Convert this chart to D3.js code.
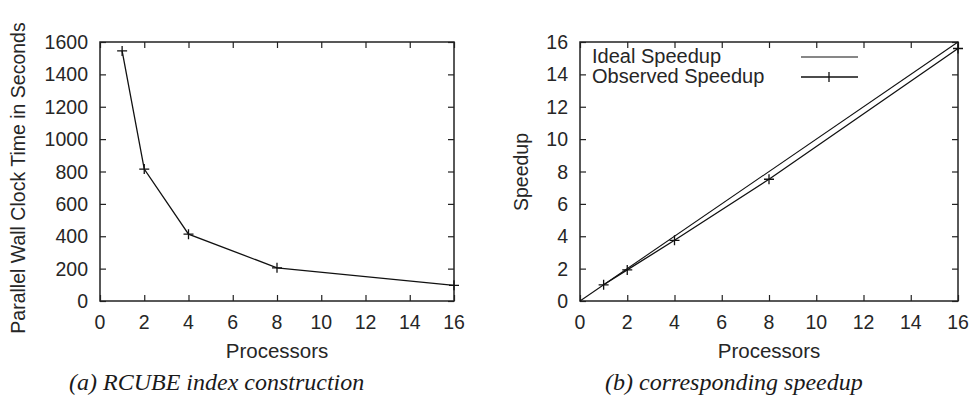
<!DOCTYPE html>
<html>
<head>
<meta charset="utf-8">
<script src="https://cdn.jsdelivr.net/npm/d3@7"></script>
<style>
  body { margin: 0; background: #fff; }
  text { font-family: "Liberation Sans", Arial, sans-serif; fill: #262626; }
  .caption { font-family: "Liberation Serif", "Times New Roman", serif; font-style: italic; fill: #1a1a1a; }
</style>
</head>
<body>
<div id="chart"></div>
<script>
// data
var processors = [1, 2, 4, 8, 16];
var wallTime = [1545, 815, 413, 205, 97];
var idealX = [0, 16];
var idealSpeedup = [0, 16];
var observedSpeedup = [1, 1.92, 3.75, 7.52, 15.6];
var xTicks = [0, 2, 4, 6, 8, 10, 12, 14, 16];
var timeTicks = [0, 200, 400, 600, 800, 1000, 1200, 1400, 1600];
var speedTicks = [0, 2, 4, 6, 8, 10, 12, 14, 16];

var svg = d3.select("#chart")
  .append("svg")
    .attr("width", 976)
    .attr("height", 401);

var plotTop = 42, plotBottom = 301;
var fs = 19.5;

// draws a framed gnuplot-style panel, returns the scales
function panel(left, right, yMax, yTicks) {
  var x = d3.scaleLinear().domain([0, 16]).range([left, right]);
  var y = d3.scaleLinear().domain([0, yMax]).range([plotBottom, plotTop]);
  var g = svg.append("g");

  // inward ticks on all four sides
  g.append("g")
    .attr("transform", "translate(0," + plotBottom + ")")
    .call(d3.axisTop(x).tickValues(xTicks).tickSize(6).tickFormat(""));
  g.append("g")
    .attr("transform", "translate(0," + plotTop + ")")
    .call(d3.axisBottom(x).tickValues(xTicks).tickSize(6).tickFormat(""));
  g.append("g")
    .attr("transform", "translate(" + left + ",0)")
    .call(d3.axisRight(y).tickValues(yTicks).tickSize(6).tickFormat(""));
  g.append("g")
    .attr("transform", "translate(" + right + ",0)")
    .call(d3.axisLeft(y).tickValues(yTicks).tickSize(6).tickFormat(""));
  g.selectAll(".domain").remove();
  g.selectAll(".tick line").attr("stroke", "#222").attr("stroke-width", 1.2);

  // frame
  g.append("rect")
    .attr("x", left).attr("y", plotTop)
    .attr("width", right - left).attr("height", plotBottom - plotTop)
    .attr("fill", "none").attr("stroke", "#222").attr("stroke-width", 1.5);

  // labels
  g.selectAll(".xl").data(xTicks).enter().append("text")
    .attr("x", function(d) { return x(d); })
    .attr("y", 329)
    .attr("text-anchor", "middle")
    .attr("font-size", fs)
    .text(function(d) { return d; });
  g.selectAll(".yl").data(yTicks).enter().append("text")
    .attr("x", left - 12)
    .attr("y", function(d) { return y(d) + 7; })
    .attr("text-anchor", "end")
    .attr("font-size", fs)
    .text(function(d) { return d; });

  g.append("text")
    .attr("x", (left + right) / 2)
    .attr("y", 358)
    .attr("text-anchor", "middle")
    .attr("font-size", 20.5)
    .text("Processors");
  return {x: x, y: y, g: g};
}

function crosses(g, pts, x, y) {
  g.selectAll(null).data(pts).enter().append("path")
    .attr("d", function(d) {
      var px = x(d[0]), py = y(d[1]);
      return "M" + (px - 5) + "," + py + "H" + (px + 5) + "M" + px + "," + (py - 5) + "V" + (py + 5);
    })
    .attr("stroke", "#111").attr("stroke-width", 1.3);
}

// (a) wall clock time
var a = panel(100, 454, 1600, timeTicks);
var timePts = processors.map(function(p, i) { return [p, wallTime[i]]; });
a.g.append("path")
  .datum(timePts)
  .attr("fill", "none")
  .attr("stroke", "#111")
  .attr("stroke-width", 1.3)
  .attr("d", d3.line().x(function(d) { return a.x(d[0]); }).y(function(d) { return a.y(d[1]); }));
crosses(a.g, timePts, a.x, a.y);

a.g.append("text")
  .attr("transform", "translate(25,178) rotate(-90)")
  .attr("text-anchor", "middle")
  .attr("font-size", fs)
  .text("Parallel Wall Clock Time in Seconds");
a.g.append("text")
  .attr("class", "caption")
  .attr("x", 69)
  .attr("y", 390)
  .attr("font-size", 24)
  .text("(a) RCUBE index construction");

// (b) speedup
var b = panel(580, 958, 16, speedTicks);
var idealPts = idealX.map(function(p, i) { return [p, idealSpeedup[i]]; });
var obsPts = processors.map(function(p, i) { return [p, observedSpeedup[i]]; });
var line = d3.line().x(function(d) { return b.x(d[0]); }).y(function(d) { return b.y(d[1]); });
b.g.append("path").datum(idealPts)
  .attr("fill", "none").attr("stroke", "#111").attr("stroke-width", 1.1).attr("d", line);
b.g.append("path").datum(obsPts)
  .attr("fill", "none").attr("stroke", "#111").attr("stroke-width", 1.3).attr("d", line);
crosses(b.g, obsPts, b.x, b.y);

// legend
b.g.append("text").attr("x", 592).attr("y", 63).attr("font-size", 20).text("Ideal Speedup");
b.g.append("text").attr("x", 592).attr("y", 83).attr("font-size", 20).text("Observed Speedup");
b.g.append("line").attr("x1", 801).attr("x2", 858).attr("y1", 57).attr("y2", 57)
  .attr("stroke", "#111").attr("stroke-width", 1.1);
b.g.append("line").attr("x1", 801).attr("x2", 858).attr("y1", 77).attr("y2", 77)
  .attr("stroke", "#111").attr("stroke-width", 1.3);
b.g.append("line").attr("x1", 829).attr("x2", 829).attr("y1", 72).attr("y2", 82)
  .attr("stroke", "#111").attr("stroke-width", 1.3);

b.g.append("text")
  .attr("transform", "translate(528,172) rotate(-90)")
  .attr("text-anchor", "middle")
  .attr("font-size", fs)
  .text("Speedup");
b.g.append("text")
  .attr("class", "caption")
  .attr("x", 605)
  .attr("y", 390)
  .attr("font-size", 24)
  .text("(b) corresponding speedup");
</script>
</body>
</html>
